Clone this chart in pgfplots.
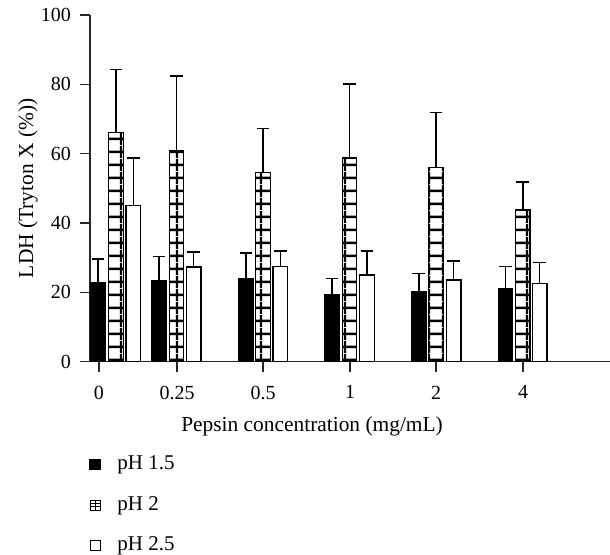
\documentclass[border=0pt]{standalone}
\usepackage{fontspec}
\setmainfont{Liberation Serif}
\usepackage{pgfplots}
\pgfplotsset{compat=1.18}
\usetikzlibrary{patterns.meta}
\tikzdeclarepattern{
  name=mygrid,
  type=uncolored,
  bounding box={(0pt,0pt) and (7.2pt,6.3pt)},
  tile size={(7.2pt,6.3pt)},
  code={
    \draw[line width=1.2pt] (0pt,3.15pt) -- (7.2pt,3.15pt);
    \draw[line width=1.2pt] (3.6pt,0pt) -- (3.6pt,6.3pt);
  }
}
\begin{document}
\fontsize{10pt}{12pt}\selectfont
\begin{tikzpicture}
\useasboundingbox (-45pt,-96.15pt) rectangle (260pt,180.85pt);
\begin{axis}[
  anchor=origin, at={(0pt,0pt)},
  x=0.5pt, y=1.7335pt,
  xmin=0, xmax=520, ymin=0, ymax=100,
  scale only axis,
  axis x line=bottom, axis y line=left,
  axis line style={-, line width=0.65pt, black!85},
  tick style={line width=0.65pt, black!85},
  tick align=outside, major tick length=5pt,
  xtick={9,87,173,260,346,433},
  xticklabels={0,0.25,0.5,1,2,4},
  ytick={0,20,40,60,80,100},
  /pgf/number format/assume math mode=true,
  ticklabel style={font=\fontsize{10pt}{12pt}\selectfont},
  xticklabel style={yshift=-3.5pt},
  yticklabel style={xshift=-1pt},
  xlabel={Pepsin concentration (mg/mL)},
  ylabel={LDH (Tryton X (\%))},
  xlabel style={at={(axis description cs:0.427,0)}, anchor=center, yshift=-32.5pt},
  ylabel style={at={(axis description cs:0,0.5)}, anchor=center, yshift=31pt},
  label style={font=\fontsize{10.7pt}{12.8pt}\selectfont},
  ybar, bar shift=0pt, bar width=14.5,
  error bars/y dir=plus, error bars/y explicit,
  error bars/error bar style={line width=0.75pt, black},
  error bars/error mark=-,
  error bars/error mark options={rotate=90, line width=0.75pt, mark size=3.2pt, black},
  legend style={at={(axis cs:-1,0)}, anchor=north west, yshift=-45pt, draw=none, fill=none,
    font=\fontsize{10.5pt}{12.6pt}\selectfont, row sep=7.8pt, inner sep=0pt},
  legend cell align=left,
  clip=false,
]
\addplot[draw=black, line width=0.7pt, fill=black,
  legend image code/.code={\path[draw=none, fill=black] (0pt,-2.9pt) rectangle (5.8pt,2.9pt);
     \path[draw=none, fill=none] (0pt,0pt) -- (12pt,0pt);}]
  coordinates {(8,22.8) +- (0,6.8) (69,23.4) +- (0,6.9) (156,23.9) +- (0,7.4)
               (242,19.4) +- (0,4.6) (328.8,20.2) +- (0,5.3) (415.5,21.2) +- (0,6.2)};
\addlegendentry{pH 1.5}
\addplot[draw=black, line width=0.7pt, pattern={mygrid}, pattern color=black,
  legend image code/.code={\path[draw=black, fill=white, line width=0.5pt] (0.4pt,-2.5pt) rectangle (5.4pt,2.5pt);
     \path[draw=black, fill=none, line width=0.5pt] (0.4pt,-0.83pt) -- (5.4pt,-0.83pt) (0.4pt,0.83pt) -- (5.4pt,0.83pt) (2.9pt,-2.5pt) -- (2.9pt,2.5pt);
     \path[draw=none, fill=none] (0pt,0pt) -- (12pt,0pt);}]
  coordinates {(26,66.1) +- (0,18.2) (86.5,60.8) +- (0,21.6) (173,54.6) +- (0,12.7)
               (259.5,58.8) +- (0,21.3) (346,56.1) +- (0,15.8) (432.8,43.75) +- (0,8.05)};
\addlegendentry{pH 2}
\addplot[draw=black, line width=0.7pt, fill=white,
  legend image code/.code={\path[draw=black, fill=white, line width=0.5pt] (0.4pt,-2.6pt) rectangle (5.6pt,2.6pt);
     \path[draw=none, fill=none] (0pt,0pt) -- (12pt,0pt);}]
  coordinates {(43.3,45.0) +- (0,13.7) (103.7,27.3) +- (0,4.4) (190.3,27.4) +- (0,4.6)
               (277,25.0) +- (0,7.0) (363.7,23.6) +- (0,5.5) (449.7,22.6) +- (0,6.0)};
\addlegendentry{pH 2.5}
\end{axis}
\end{tikzpicture}
\end{document}
